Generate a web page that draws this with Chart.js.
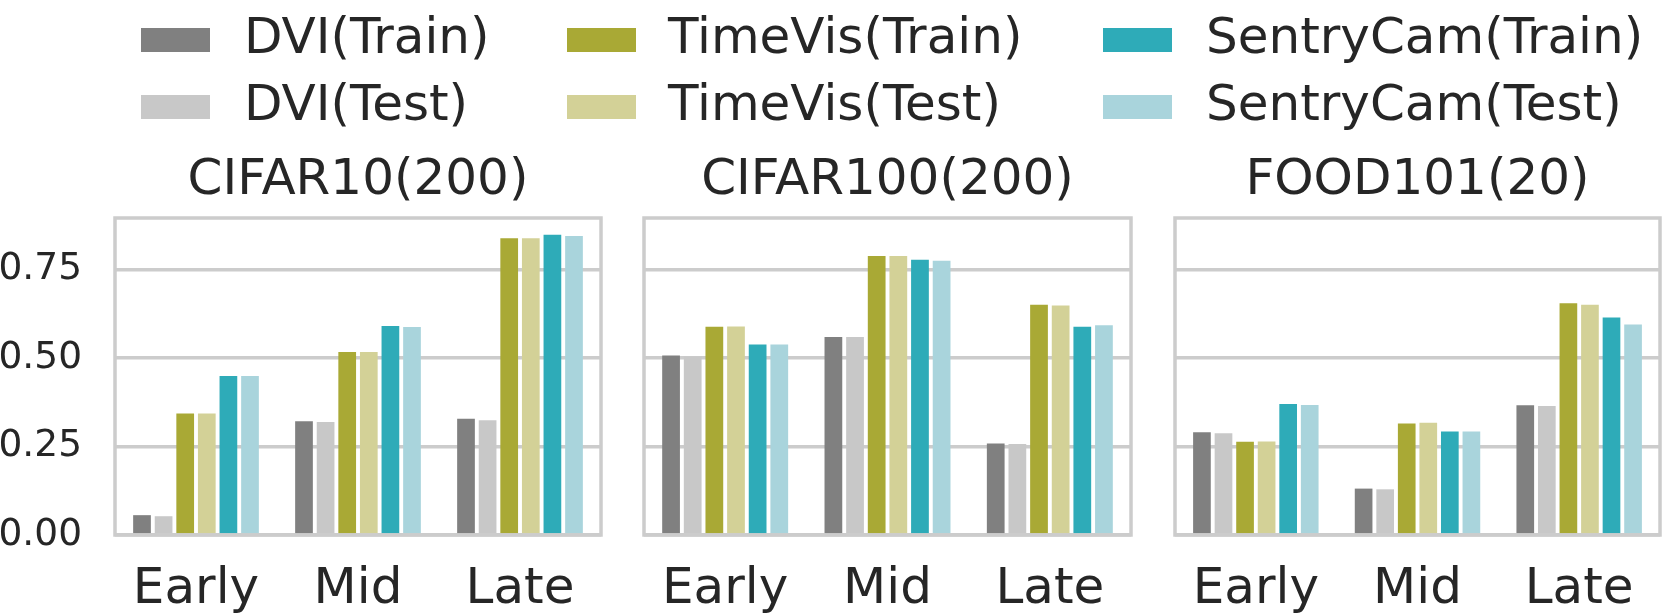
<!DOCTYPE html>
<html>
<head>
<meta charset="utf-8">
<script src="https://cdn.jsdelivr.net/npm/chart.js@4.4.0/dist/chart.umd.min.js"></script>
<style>
    body { margin: 0; width: 1662px; height: 616px; background: #fff; position: relative; overflow: hidden;
           font-family: "DejaVu Sans", sans-serif; color: #262626; }
    canvas { position: absolute; }
    .swatch { position: absolute; width: 69px; height: 24px; }
    .label { position: absolute; font-size: 50px; line-height: 56px; white-space: nowrap; }
</style>
</head>
<body>
<div id="legend"></div>
<canvas id="panel1" width="610" height="476" style="left:0px;top:140px"></canvas>
<canvas id="panel2" width="506" height="476" style="left:634px;top:140px"></canvas>
<canvas id="panel3" width="497" height="476" style="left:1165px;top:140px"></canvas>
<script>
// categories and series
const stages = ['Early', 'Mid', 'Late'];
const panelTitles = ['CIFAR10(200)', 'CIFAR100(200)', 'FOOD101(20)'];
const seriesNames = ['DVI(Train)', 'DVI(Test)', 'TimeVis(Train)', 'TimeVis(Test)', 'SentryCam(Train)', 'SentryCam(Test)'];
const seriesColors = ['#808080', '#c8c8c8', '#a9a935', '#d3d197', '#2eabb8', '#a9d4dc'];
const yTicks = [0, 0.25, 0.5, 0.75];

// one row per series, values for Early / Mid / Late
const cifar10Values = [
    [0.056, 0.321, 0.328],
    [0.053, 0.319, 0.324],
    [0.343, 0.517, 0.838],
    [0.343, 0.517, 0.838],
    [0.449, 0.590, 0.848],
    [0.449, 0.587, 0.844]
];
const cifar100Values = [
    [0.507, 0.559, 0.258],
    [0.504, 0.559, 0.257],
    [0.588, 0.788, 0.650],
    [0.589, 0.788, 0.648],
    [0.538, 0.777, 0.588],
    [0.538, 0.774, 0.592]
];
const food101Values = [
    [0.290, 0.131, 0.366],
    [0.287, 0.129, 0.364],
    [0.263, 0.315, 0.654],
    [0.264, 0.317, 0.650],
    [0.370, 0.292, 0.614],
    [0.367, 0.292, 0.594]
];

const textColor = '#262626';
const yMax = 0.895;
Chart.defaults.font.family = 'DejaVu Sans';

// Legend (3 columns, 2 rows, filled column by column)
const legendSwatchX = [141, 567, 1103];
const legendTextX = [244, 668, 1206];
const legendRowY = [40, 107];
const legend = document.getElementById('legend');
seriesNames.forEach((name, i) => {
    const col = Math.floor(i / 2);
    const row = i % 2;
    const sw = document.createElement('div');
    sw.className = 'swatch';
    sw.style.left = legendSwatchX[col] + 'px';
    sw.style.top = (legendRowY[row] - 12) + 'px';
    sw.style.background = seriesColors[i];
    legend.appendChild(sw);
    const lb = document.createElement('div');
    lb.className = 'label';
    lb.textContent = name;
    lb.style.left = legendTextX[col] + 'px';
    lb.style.top = (legendRowY[row] - 4 - 28) + 'px';
    legend.appendChild(lb);
});

// Grey frame round the plot area, drawn over the bars
const framePlugin = {
    id: 'frame',
    afterDatasetsDraw(chart) {
        const { ctx, chartArea: a } = chart;
        ctx.save();
        ctx.strokeStyle = '#cccccc';
        ctx.lineWidth = 3.5;
        ctx.strokeRect(a.left, a.top, a.right - a.left, a.bottom - a.top);
        ctx.restore();
    }
};

function makePanel(id, title, values, showY, pad) {
    return new Chart(document.getElementById(id), {
        type: 'bar',
        data: {
            labels: stages,
            datasets: seriesNames.map((name, i) => ({
                label: name,
                data: values[i],
                backgroundColor: seriesColors[i],
                categoryPercentage: 0.8,
                barPercentage: 0.82
            }))
        },
        options: {
            responsive: false,
            animation: false,
            devicePixelRatio: 1,
            layout: { padding: pad },
            plugins: {
                legend: { display: false },
                tooltip: { enabled: false },
                title: {
                    display: true,
                    text: title,
                    fullSize: false,
                    color: textColor,
                    font: { size: 50, weight: 'normal', lineHeight: 1.2 },
                    padding: { top: 11, bottom: 7 }
                }
            },
            scales: {
                x: {
                    grid: { display: false, drawTicks: false },
                    border: { display: false },
                    ticks: { color: textColor, font: { size: 50 }, padding: 25 },
                    afterFit: s => { s.height = 81; }
                },
                y: {
                    min: 0,
                    max: yMax,
                    afterBuildTicks: s => { s.ticks = yTicks.map(v => ({ value: v })); },
                    grid: { color: '#cccccc', lineWidth: 3.5, drawTicks: false },
                    border: { display: false },
                    ticks: {
                        display: showY,
                        color: textColor,
                        font: { size: 37.5 },
                        padding: 33,
                        callback: v => v.toFixed(2)
                    },
                    afterFit: s => { s.width = showY ? 115 : 0; }
                }
            }
        },
        plugins: [framePlugin]
    });
}

makePanel('panel1', panelTitles[0], cifar10Values, true, { left: 0, right: 9, top: 0, bottom: 0 });
makePanel('panel2', panelTitles[1], cifar100Values, false, { left: 10, right: 9, top: 0, bottom: 0 });
makePanel('panel3', panelTitles[2], food101Values, false, { left: 10, right: 2, top: 0, bottom: 0 });
</script>
</body>
</html>
